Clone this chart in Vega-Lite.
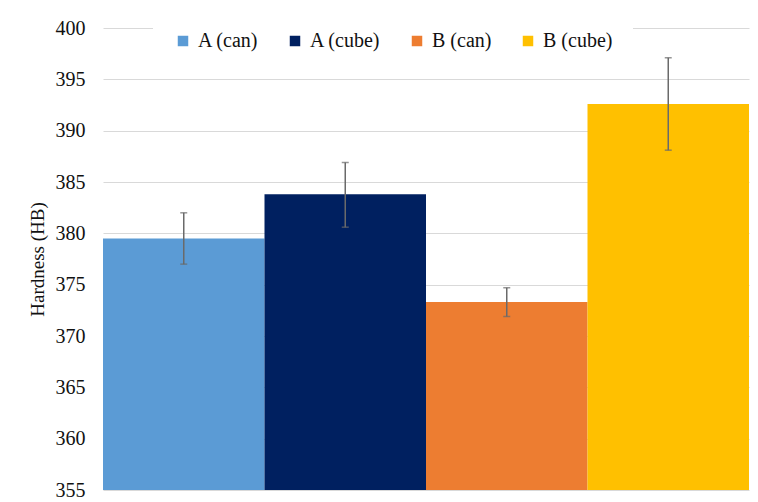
{
  "$schema": "https://vega.github.io/schema/vega-lite/v6.json",
  "width": 646,
  "height": 462,
  "autosize": "none",
  "padding": {"left": 103, "top": 28, "right": 9, "bottom": 12},
  "background": "white",
  "config": {
    "font": "Liberation Serif",
    "view": {"stroke": null},
    "axis": {"labelFont": "Liberation Serif", "titleFont": "Liberation Serif"},
    "legend": {"labelFont": "Liberation Serif"}
  },
  "data": {
    "values": [
      {"group": "A (can)", "hardness": 379.5, "lo": 377.0, "hi": 382.0},
      {"group": "A (cube)", "hardness": 383.8, "lo": 380.6, "hi": 386.9},
      {"group": "B (can)", "hardness": 373.3, "lo": 371.9, "hi": 374.7},
      {"group": "B (cube)", "hardness": 392.6, "lo": 388.1, "hi": 397.1}
    ]
  },
  "encoding": {
    "x": {
      "field": "group",
      "type": "nominal",
      "sort": ["A (can)", "A (cube)", "B (can)", "B (cube)"],
      "scale": {"paddingInner": 0, "paddingOuter": 0},
      "axis": null
    }
  },
  "layer": [
    {
      "mark": {"type": "bar", "clip": true},
      "encoding": {
        "y": {
          "field": "hardness",
          "type": "quantitative",
          "scale": {"domain": [355, 400], "zero": false, "nice": false},
          "axis": {
            "values": [355, 360, 365, 370, 375, 380, 385, 390, 395, 400],
            "title": "Hardness (HB)",
            "titleFontSize": 19,
            "titleFontWeight": "normal",
            "titleColor": "#111",
            "titlePadding": 8,
            "labelFontSize": 20,
            "labelColor": "#111",
            "labelPadding": 18,
            "domain": false,
            "ticks": false,
            "grid": true,
            "gridColor": "#d9d9d9",
            "gridWidth": 1.2
          }
        },
        "y2": {"datum": 355},
        "color": {
          "field": "group",
          "type": "nominal",
          "sort": ["A (can)", "A (cube)", "B (can)", "B (cube)"],
          "scale": {
            "domain": ["A (can)", "A (cube)", "B (can)", "B (cube)"],
            "range": ["#5B9BD5", "#002060", "#ED7D31", "#FFC000"]
          },
          "legend": {
            "title": null,
            "orient": "none",
            "direction": "horizontal",
            "legendX": 50,
            "legendY": -17,
            "fillColor": "white",
            "padding": 20,
            "symbolType": "square",
            "symbolSize": 110,
            "symbolStrokeWidth": 0,
            "labelFontSize": 20,
            "labelColor": "#111",
            "labelOffset": 5,
            "columnPadding": 26
          }
        }
      }
    },
    {
      "mark": {"type": "rule", "color": "#6a6a6a", "strokeWidth": 1.5},
      "encoding": {
        "y": {"field": "lo", "type": "quantitative"},
        "y2": {"field": "hi"}
      }
    },
    {
      "mark": {"type": "tick", "color": "#6a6a6a", "size": 7, "thickness": 1.5, "orient": "horizontal"},
      "encoding": {"y": {"field": "lo", "type": "quantitative"}}
    },
    {
      "mark": {"type": "tick", "color": "#6a6a6a", "size": 7, "thickness": 1.5, "orient": "horizontal"},
      "encoding": {"y": {"field": "hi", "type": "quantitative"}}
    }
  ]
}
